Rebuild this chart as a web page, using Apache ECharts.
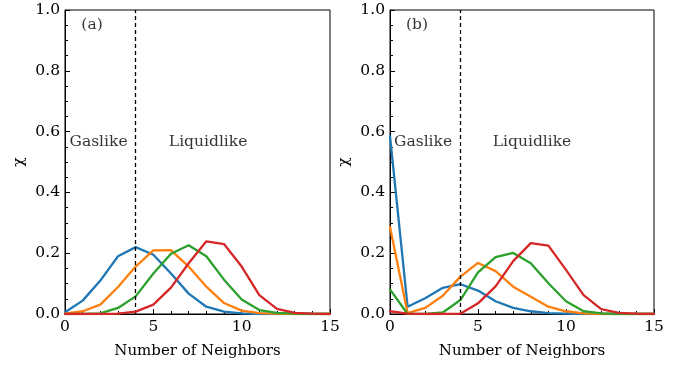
<!DOCTYPE html>
<html><head><meta charset="utf-8">
<script src="https://cdn.jsdelivr.net/npm/echarts@6/dist/echarts.min.js"></script>
<style>html,body{margin:0;padding:0;background:#fff}#c{width:684px;height:365px}</style>
</head><body><div id="c"></div>
<script>
const neighbors = [0,1,2,3,4,5,6,7,8,9,10,11,12,13,14,15];
const xTicks = [0,5,10,15];
const yTicks = [0.0,0.2,0.4,0.6,0.8,1.0];
const threshold = 4;
// Panel (a)
const aBlue   = [0.006,0.044,0.110,0.190,0.220,0.195,0.133,0.067,0.024,0.008,0.002,0.000,0.000,0.000,0.000,0.000];
const aOrange = [0.001,0.009,0.031,0.089,0.156,0.209,0.210,0.156,0.090,0.036,0.011,0.003,0.001,0.000,0.000,0.000];
const aGreen  = [0.000,0.000,0.002,0.020,0.058,0.133,0.198,0.226,0.190,0.113,0.048,0.013,0.004,0.001,0.000,0.000];
const aRed    = [0.000,0.000,0.000,0.001,0.008,0.031,0.087,0.167,0.239,0.230,0.156,0.062,0.017,0.004,0.001,0.000];
// Panel (b)
const bBlue   = [0.585,0.024,0.052,0.086,0.098,0.077,0.042,0.020,0.009,0.003,0.001,0.000,0.000,0.000,0.000,0.000];
const bOrange = [0.286,0.003,0.020,0.060,0.123,0.168,0.141,0.090,0.057,0.024,0.009,0.002,0.000,0.000,0.000,0.000];
const bGreen  = [0.081,0.000,0.000,0.005,0.046,0.137,0.187,0.201,0.167,0.101,0.042,0.009,0.002,0.000,0.000,0.000];
const bRed    = [0.009,0.001,0.000,0.000,0.001,0.035,0.091,0.174,0.233,0.225,0.145,0.062,0.016,0.004,0.001,0.000];
const panelLabels = ['(a)','(b)'];
const regionLabels = ['Gaslike','Liquidlike'];
const colors = ['#1f77b4','#ff7f0e','#2ca02c','#d62728'];

const FONT = 'DejaVu Serif';
const FS = 15.5;
const panels = [[aBlue,aOrange,aGreen,aRed],[bBlue,bOrange,bGreen,bRed]];
const grids = [
  {left:65, top:10, width:265, height:304, show:true, borderColor:'#000', borderWidth:1, backgroundColor:'transparent'},
  {left:390, top:10, width:264, height:304, show:true, borderColor:'#000', borderWidth:1, backgroundColor:'transparent'}
];
function xAx(i){return {type:'value', gridIndex:i, min:0, max:15, interval:5,
  name:'Number of Neighbors', nameLocation:'middle', nameGap:30,
  nameTextStyle:{fontFamily:FONT,fontSize:15,color:'#000'},
  axisLine:{show:true,onZero:false,lineStyle:{color:'#000',width:1}},
  axisTick:{show:true,inside:true,length:5,lineStyle:{color:'#000'}},
  minorTick:{show:true,splitNumber:5,length:3,lineStyle:{color:'#000'}},
  axisLabel:{fontFamily:FONT,fontSize:FS,color:'#000',margin:5,formatter:v=>xTicks.includes(v)?String(v):''},
  splitLine:{show:false}};}
function yAx(i){return {type:'value', gridIndex:i, min:0, max:1, interval:0.2,
  name:'χ', nameLocation:'middle', nameGap:38, nameRotate:90,
  nameTextStyle:{fontFamily:FONT,fontSize:FS,color:'#000'},
  axisLine:{show:true,onZero:false,lineStyle:{color:'#000',width:1}},
  axisTick:{show:true,inside:true,length:5,lineStyle:{color:'#000'}},
  minorTick:{show:true,splitNumber:4,length:3,lineStyle:{color:'#000'}},
  axisLabel:{fontFamily:FONT,fontSize:FS,color:'#000',margin:5,formatter:v=>{const t=yTicks.find(y=>Math.abs(y-v)<1e-9);return t===undefined?'':t.toFixed(1);}},
  splitLine:{show:false}};}

const series = [];
const textPos = [
  {panel:[1.53,0.95], gas:[1.9,0.566], liq:[8.1,0.566]},
  {panel:[1.53,0.95], gas:[1.88,0.566], liq:[8.07,0.566]}
];
panels.forEach((p,i)=>{
  p.forEach((vals,k)=>{
    const s = {type:'line', xAxisIndex:i, yAxisIndex:i, data:neighbors.map((n,j)=>[n,vals[j]]),
      showSymbol:false, symbol:'none', lineStyle:{color:colors[k],width:2.3,join:'round',cap:'round'}, itemStyle:{color:colors[k]}, z:2+k, animation:false};
    if(k===0){
      s.markLine = {silent:true, symbol:'none', animation:false, label:{show:false},
        lineStyle:{color:'#000',type:[4,3],width:1.3}, data:[{xAxis:threshold}]};
    }
    series.push(s);
  });
  const tp = textPos[i];
  series.push({type:'scatter', xAxisIndex:i, yAxisIndex:i, symbolSize:0, animation:false, silent:true,
    itemStyle:{color:'#000'},
    data:[
      {value:tp.panel, label:{formatter:panelLabels[i]}},
      {value:tp.gas, label:{formatter:regionLabels[0]}},
      {value:tp.liq, label:{formatter:regionLabels[1]}}
    ],
    label:{show:true, position:'inside', fontFamily:FONT, fontSize:FS, color:'#000', textBorderWidth:0}, z:10});
});

const chart = echarts.init(document.getElementById('c'), null, {renderer:'canvas'});
chart.setOption({
  animation:false,
  grid:grids,
  xAxis:[xAx(0),xAx(1)],
  yAxis:[yAx(0),yAx(1)],
  series:series
});
</script></body></html>
